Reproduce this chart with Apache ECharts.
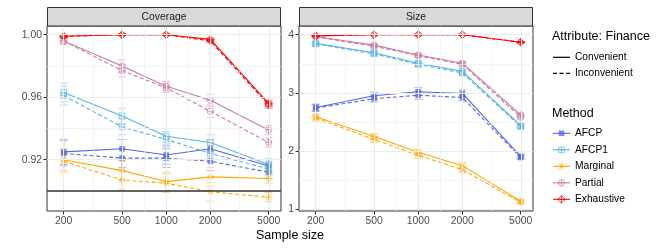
<!DOCTYPE html>
<html>
<head>
<meta charset="utf-8">
<script src="https://cdn.jsdelivr.net/npm/echarts@6/dist/echarts.min.js"></script>
<style>
html,body{margin:0;padding:0;background:#fff;}
#chart{width:664px;height:249px;}
</style>
</head>
<body>
<div id="chart"></div>
<script>
// ---------- data ----------
const sampleSizes = [200, 500, 1000, 2000, 5000];
const xTickLabels = ['200', '500', '1000', '2000', '5000'];
const methods = ['AFCP', 'AFCP1', 'Marginal', 'Partial', 'Exhaustive'];
const attributes = ['Convenient', 'Inconvenient'];
const panels = ['Coverage', 'Size'];

const covTicks = [0.92, 0.96, 1.00];
const covMinor = [0.90, 0.94, 0.98];
const sizeTicks = [1, 2, 3, 4];
const sizeMinor = [1.5, 2.5, 3.5];
const nominalLevel = 0.90;

// Coverage, Convenient
const covConvAFCP       = [0.925, 0.927, 0.923, 0.927, 0.916];
const covConvAFCP1      = [0.963, 0.948, 0.935, 0.931, 0.917];
const covConvMarginal   = [0.920, 0.913, 0.906, 0.909, 0.908];
const covConvPartial    = [0.996, 0.980, 0.967, 0.958, 0.939];
const covConvExhaustive = [0.999, 1.000, 1.000, 0.997, 0.956];
// Coverage, Inconvenient
const covIncAFCP       = [0.924, 0.921, 0.921, 0.919, 0.912];
const covIncAFCP1      = [0.961, 0.941, 0.933, 0.924, 0.914];
const covIncMarginal   = [0.919, 0.907, 0.905, 0.8995, 0.896];
const covIncPartial    = [0.996, 0.977, 0.966, 0.951, 0.931];
const covIncExhaustive = [0.999, 1.000, 1.000, 0.996, 0.955];
// Coverage error half-widths
const covErrAFCP       = [0.008, 0.006, 0.006, 0.006, 0.004];
const covErrAFCP1      = [0.006, 0.005, 0.005, 0.005, 0.004];
const covErrMarginal   = [0.007, 0.006, 0.006, 0.006, 0.003];
const covErrPartial    = [0.002, 0.004, 0.003, 0.004, 0.003];
const covErrExhaustive = [0.001, 0.0005, 0.0005, 0.001, 0.002];

// Size, Convenient
const sizeConvAFCP       = [2.75, 2.95, 3.02, 2.99, 1.91];
const sizeConvAFCP1      = [3.85, 3.69, 3.51, 3.37, 2.44];
const sizeConvMarginal   = [2.59, 2.25, 1.98, 1.75, 1.14];
const sizeConvPartial    = [3.97, 3.82, 3.65, 3.51, 2.62];
const sizeConvExhaustive = [3.98, 4.00, 4.00, 4.00, 3.87];
// Size, Inconvenient
const sizeIncAFCP       = [2.74, 2.90, 2.96, 2.92, 1.89];
const sizeIncAFCP1      = [3.84, 3.67, 3.49, 3.34, 2.42];
const sizeIncMarginal   = [2.57, 2.20, 1.93, 1.68, 1.12];
const sizeIncPartial    = [3.96, 3.80, 3.64, 3.49, 2.58];
const sizeIncExhaustive = [3.98, 4.00, 4.00, 4.00, 3.87];
// Size error half-widths
const sizeErrAFCP       = [0.06, 0.06, 0.07, 0.06, 0.03];
const sizeErrAFCP1      = [0.03, 0.04, 0.04, 0.04, 0.03];
const sizeErrMarginal   = [0.05, 0.05, 0.05, 0.05, 0.03];
const sizeErrPartial    = [0.02, 0.03, 0.03, 0.03, 0.03];
const sizeErrExhaustive = [0.01, 0.005, 0.005, 0.005, 0.01];

// ---------- styling ----------
const methodColors = ['#5168E6', '#56B4E9', '#FFA500', '#CC79A7', '#FF0000'];
const methodShapes = ['square', 'squarePlus', 'asterisk', 'circlePlus', 'diamondPlus'];
const FONT = '"Liberation Sans", Arial, Helvetica, sans-serif';

const covValues = [
  [covConvAFCP, covConvAFCP1, covConvMarginal, covConvPartial, covConvExhaustive],
  [covIncAFCP, covIncAFCP1, covIncMarginal, covIncPartial, covIncExhaustive]
];
const covErrs = [covErrAFCP, covErrAFCP1, covErrMarginal, covErrPartial, covErrExhaustive];
const sizeValues = [
  [sizeConvAFCP, sizeConvAFCP1, sizeConvMarginal, sizeConvPartial, sizeConvExhaustive],
  [sizeIncAFCP, sizeIncAFCP1, sizeIncMarginal, sizeIncPartial, sizeIncExhaustive]
];
const sizeErrs = [sizeErrAFCP, sizeErrAFCP1, sizeErrMarginal, sizeErrPartial, sizeErrExhaustive];
const panelValues = [covValues, sizeValues];
const panelErrs = [covErrs, sizeErrs];

const logX = sampleSizes.map(n => Math.log10(n));
const xMinor = [];
for (let i = 0; i < logX.length - 1; i++) xMinor.push((logX[i] + logX[i + 1]) / 2);

function marker(shape, cx, cy, color, opacity) {
  const lw = 0.9;
  const st = { stroke: color, lineWidth: lw, fill: null, opacity: opacity };
  const line = (x1, y1, x2, y2) => ({ type: 'line', shape: { x1, y1, x2, y2 }, style: Object.assign({}, st) });
  const out = [];
  if (shape === 'square') {
    out.push({ type: 'rect', shape: { x: cx - 2.8, y: cy - 2.8, width: 5.6, height: 5.6 }, style: { fill: color, opacity: opacity } });
  } else if (shape === 'squarePlus') {
    const r = 2.8;
    out.push({ type: 'rect', shape: { x: cx - r, y: cy - r, width: 2 * r, height: 2 * r }, style: Object.assign({}, st) });
    out.push(line(cx - r, cy, cx + r, cy), line(cx, cy - r, cx, cy + r));
  } else if (shape === 'asterisk') {
    const r = 3.6, d = 2.6;
    out.push(line(cx - r, cy, cx + r, cy), line(cx, cy - r, cx, cy + r),
             line(cx - d, cy - d, cx + d, cy + d), line(cx - d, cy + d, cx + d, cy - d));
  } else if (shape === 'circlePlus') {
    const r = 3.2;
    out.push({ type: 'circle', shape: { cx, cy, r }, style: Object.assign({}, st) });
    out.push(line(cx - r, cy, cx + r, cy), line(cx, cy - r, cx, cy + r));
  } else if (shape === 'diamondPlus') {
    const r = 3.8;
    out.push({ type: 'polygon', shape: { points: [[cx, cy - r], [cx + r, cy], [cx, cy + r], [cx - r, cy]] }, style: Object.assign({}, st) });
    out.push(line(cx - r, cy, cx + r, cy), line(cx, cy - r, cx, cy + r));
  }
  return out;
}

// ---------- axes / grids ----------
const gridTop = 26, gridH = 185;
const grids = [
  { left: 47, top: gridTop, width: 234, height: gridH, show: true, borderColor: '#333333', borderWidth: 1, backgroundColor: '#fff', z: 0 },
  { left: 299, top: gridTop, width: 234, height: gridH, show: true, borderColor: '#333333', borderWidth: 1, backgroundColor: '#fff', z: 0 }
];
const xMin = 2.187, xMax = 3.783;
const xAxes = [0, 1].map(i => ({
  type: 'value', gridIndex: i, min: xMin, max: xMax,
  axisLine: { show: false },
  splitLine: { show: false },
  axisTick: { show: true, length: 3.5, lineStyle: { color: '#333333', width: 1 }, customValues: logX },
  axisLabel: {
    customValues: logX, margin: 5, color: '#4D4D4D', fontSize: 10.4, fontFamily: FONT,
    formatter: v => { const idx = logX.findIndex(l => Math.abs(l - v) < 1e-6); return idx >= 0 ? xTickLabels[idx] : ''; }
  }
}));
const yAxes = [
  {
    type: 'value', gridIndex: 0, min: 0.88717, max: 1.00557,
    axisLine: { show: false }, splitLine: { show: false },
    axisTick: { show: true, length: 3.5, lineStyle: { color: '#333333', width: 1 }, customValues: covTicks },
    axisLabel: { customValues: covTicks, margin: 5, color: '#4D4D4D', fontSize: 10.4, fontFamily: FONT, formatter: v => v.toFixed(2) }
  },
  {
    type: 'value', gridIndex: 1, min: 0.971, max: 4.149,
    axisLine: { show: false }, splitLine: { show: false },
    axisTick: { show: true, length: 3.5, lineStyle: { color: '#333333', width: 1 }, customValues: sizeTicks },
    axisLabel: { customValues: sizeTicks, margin: 5, color: '#4D4D4D', fontSize: 10.4, fontFamily: FONT, formatter: v => String(Math.round(v)) }
  }
];

// ---------- series ----------
const series = [];
// grid lines via markLine
[0, 1].forEach(p => {
  const yMaj = p === 0 ? covTicks : sizeTicks;
  const yMin = p === 0 ? covMinor : sizeMinor;
  const data = [];
  xMinor.forEach(v => data.push({ xAxis: v, lineStyle: { color: '#EFEFEF', width: 0.7, type: 'solid' } }));
  yMin.forEach(v => data.push({ yAxis: v, lineStyle: { color: '#EFEFEF', width: 0.7, type: 'solid' } }));
  logX.forEach(v => data.push({ xAxis: v, lineStyle: { color: '#EBEBEB', width: 1.1, type: 'solid' } }));
  yMaj.forEach(v => data.push({ yAxis: v, lineStyle: { color: '#EBEBEB', width: 1.1, type: 'solid' } }));
  series.push({
    type: 'line', xAxisIndex: p, yAxisIndex: p, data: [], silent: true, z: 1,
    markLine: { silent: true, symbol: ['none', 'none'], label: { show: false }, animation: false, data: data }
  });
});
// nominal level line
series.push({
  type: 'line', xAxisIndex: 0, yAxisIndex: 0, data: [], silent: true, z: 2,
  markLine: { silent: true, symbol: ['none', 'none'], label: { show: false }, animation: false,
    data: [{ yAxis: nominalLevel, lineStyle: { color: '#333333', width: 1.6, type: 'solid' } }] }
});

// lines
[0, 1].forEach(p => {
  methods.forEach((m, mi) => {
    attributes.forEach((a, ai) => {
      const vals = panelValues[p][ai][mi];
      series.push({
        name: m, type: 'line', xAxisIndex: p, yAxisIndex: p, z: 3, silent: true,
        symbol: 'none', showSymbol: false, animation: false,
        data: logX.map((x, k) => [x, vals[k]]),
        lineStyle: { color: methodColors[mi], width: 1.1, type: ai === 0 ? 'solid' : [4, 2.5] }
      });
    });
  });
});
// points + error bars
[0, 1].forEach(p => {
  methods.forEach((m, mi) => {
    attributes.forEach((a, ai) => {
      const vals = panelValues[p][ai][mi];
      const errs = panelErrs[p][mi];
      series.push({
        type: 'custom', xAxisIndex: p, yAxisIndex: p, z: 4, silent: true, animation: false,
        encode: { x: 0, y: [1, 2, 3] },
        data: logX.map((x, k) => [x, vals[k], vals[k] - errs[k], vals[k] + errs[k]]),
        renderItem: (params, api) => {
          const c = api.coord([api.value(0), api.value(1)]);
          const lo = api.coord([api.value(0), api.value(2)]);
          const hi = api.coord([api.value(0), api.value(3)]);
          const col = methodColors[mi];
          const eb = { stroke: col, lineWidth: 1, opacity: 0.45 };
          const cap = 4;
          const children = [
            { type: 'line', shape: { x1: c[0], y1: lo[1], x2: c[0], y2: hi[1] }, style: Object.assign({}, eb) },
            { type: 'line', shape: { x1: c[0] - cap, y1: lo[1], x2: c[0] + cap, y2: lo[1] }, style: Object.assign({}, eb) },
            { type: 'line', shape: { x1: c[0] - cap, y1: hi[1], x2: c[0] + cap, y2: hi[1] }, style: Object.assign({}, eb) }
          ].concat(marker(methodShapes[mi], c[0], c[1], col, 0.75));
          return { type: 'group', children: children };
        }
      });
    });
  });
});

// ---------- strips, titles, legends ----------
const graphics = [];
panels.forEach((t, i) => {
  const g = grids[i];
  graphics.push({ type: 'rect', shape: { x: g.left + 0.5, y: 7.5, width: g.width - 1, height: 18.5 }, style: { fill: '#D9D9D9', stroke: '#333333', lineWidth: 1 }, z: 10 });
  graphics.push({ type: 'text', x: g.left + g.width / 2, y: 17, style: { text: t, fill: '#1A1A1A', fontSize: 10.4, fontFamily: FONT, align: 'center', verticalAlign: 'middle' }, z: 11 });
});
graphics.push({ type: 'text', x: 290, y: 236, style: { text: 'Sample size', fill: '#000', fontSize: 12.5, fontFamily: FONT, align: 'center', verticalAlign: 'middle' }, z: 11 });

const LX = 553, LX2 = 570, TX = 575;
graphics.push({ type: 'text', x: 552, y: 37, style: { text: 'Attribute: Finance', fill: '#000', fontSize: 12.5, fontFamily: FONT, align: 'left', verticalAlign: 'middle' }, z: 11 });
attributes.forEach((a, ai) => {
  const y = 57.3 + ai * 16;
  graphics.push({ type: 'line', shape: { x1: LX, y1: y, x2: LX2, y2: y }, style: { stroke: '#000', lineWidth: 1.2, lineDash: ai === 0 ? null : [4, 2.5] }, z: 11 });
  graphics.push({ type: 'text', x: TX, y: y, style: { text: a, fill: '#000', fontSize: 10.2, fontFamily: FONT, align: 'left', verticalAlign: 'middle' }, z: 11 });
});
graphics.push({ type: 'text', x: 552, y: 113.7, style: { text: 'Method', fill: '#000', fontSize: 12.5, fontFamily: FONT, align: 'left', verticalAlign: 'middle' }, z: 11 });
methods.forEach((m, mi) => {
  const y = 133.3 + mi * 16.5;
  const col = methodColors[mi];
  graphics.push({ type: 'line', shape: { x1: LX, y1: y, x2: LX2, y2: y }, style: { stroke: col, lineWidth: 1.1 }, z: 11 });
  graphics.push({ type: 'group', children: marker(methodShapes[mi], (LX + LX2) / 2, y, col, 0.75), z: 11 });
  graphics.push({ type: 'text', x: TX, y: y, style: { text: m, fill: '#000', fontSize: 10.2, fontFamily: FONT, align: 'left', verticalAlign: 'middle' }, z: 11 });
});

const chart = echarts.init(document.getElementById('chart'), null, { renderer: 'canvas', width: 664, height: 249 });
chart.setOption({
  animation: false,
  backgroundColor: '#ffffff',
  textStyle: { fontFamily: FONT },
  grid: grids,
  xAxis: xAxes,
  yAxis: yAxes,
  series: series,
  graphic: graphics
});
</script>
</body>
</html>
